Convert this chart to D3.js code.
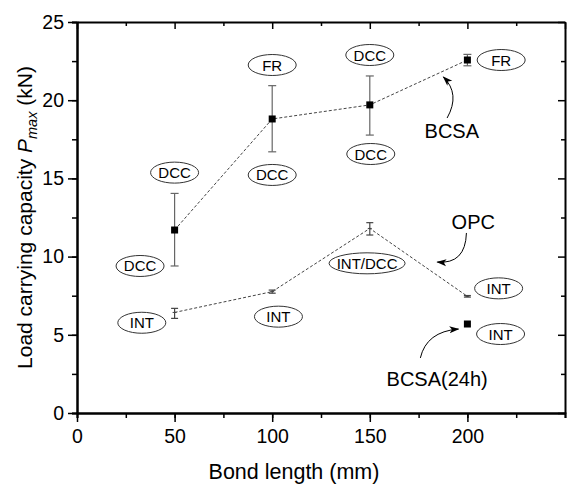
<!DOCTYPE html>
<html>
<head>
<meta charset="utf-8">
<style>
  body { margin: 0; background: #fff; }
  svg { font-family: "Liberation Sans", Arial, sans-serif; }
</style>
</head>
<body>
<div id="chart"></div>
<script src="https://d3js.org/d3.v7.min.js"></script>
<script>
// bond length (mm)
const bondLength = [50, 100, 150, 200];
// BCSA: mean and error range (kN)
const bcsaMean = [11.7, 18.8, 19.7, 22.57];
const bcsaLow  = [9.4, 16.7, 17.77, 22.2];
const bcsaHigh = [14.04, 20.93, 21.55, 22.93];
// OPC
const opcMean = [6.43, 7.76, 11.8, 7.46];
const opcLow  = [6.05, 7.66, 11.38, 7.41];
const opcHigh = [6.69, 7.86, 12.17, 7.51];
// BCSA(24h)
const bcsa24x = [200];
const bcsa24y = [5.69];

const xTicks = [0, 50, 100, 150, 200];
const yTicks = [0, 5, 10, 15, 20, 25];

// failure-mode labels (data units)
const modeText = ["DCC", "DCC", "FR", "DCC", "DCC", "DCC", "FR", "INT", "INT", "INT/DCC", "INT", "INT"];
const modeX    = [50, 32.3, 100, 100, 150, 150.5, 217.3, 33.2, 103.2, 148.6, 216, 217];
const modeY    = [15.37, 9.4, 22.25, 15.22, 22.89, 16.56, 22.57, 5.77, 6.16, 9.57, 7.97, 5.05];

const width = 567, height = 484;
const margin = {top: 22, right: 2, bottom: 71, left: 77};

const x = d3.scaleLinear().domain([0, 250]).range([margin.left, width - margin.right]);
const y = d3.scaleLinear().domain([0, 25]).range([height - margin.bottom, margin.top]);

const svg = d3.select("#chart").append("svg")
    .attr("width", width).attr("height", height);

svg.append("defs").append("marker")
    .attr("id", "ah").attr("viewBox", "0 0 10 10")
    .attr("refX", 9).attr("refY", 5)
    .attr("markerWidth", 10).attr("markerHeight", 10)
    .attr("markerUnits", "userSpaceOnUse")
    .attr("orient", "auto")
  .append("path").attr("d", "M0,1.5 L10,5 L0,8.5 L2.5,5 Z").attr("fill", "#000");

// axes
const minorX = d3.range(0, 251, 25);
const minorY = d3.range(0, 25.1, 2.5);
const axisStyle = g => g.call(g => g.select(".domain").attr("stroke-width", 2))
    .call(g => g.selectAll(".tick line").attr("stroke-width", 1.5));
const tickText = g => g.selectAll("text").attr("font-size", 19.5).attr("fill", "#000")
    .attr("font-family", "Liberation Sans, Arial, sans-serif");

svg.append("g").attr("transform", `translate(0,${y(0)})`)
    .call(d3.axisBottom(x).tickValues(minorX).tickSize(5).tickFormat(""))
    .call(axisStyle);
svg.append("g").attr("transform", `translate(0,${y(0)})`)
    .call(d3.axisBottom(x).tickValues(xTicks).tickSize(9).tickSizeOuter(0).tickPadding(7))
    .call(axisStyle)
    .call(tickText);

svg.append("g").attr("transform", `translate(${x(0)},0)`)
    .call(d3.axisLeft(y).tickValues(minorY).tickSize(5).tickFormat(""))
    .call(axisStyle);
svg.append("g").attr("transform", `translate(${x(0)},0)`)
    .call(d3.axisLeft(y).tickValues(yTicks).tickSize(9).tickSizeOuter(0).tickPadding(4))
    .call(axisStyle)
    .call(tickText);

// top and right axes, ticks inward
svg.append("g").attr("transform", `translate(0,${y(25)})`)
    .call(d3.axisBottom(x).tickValues(minorX).tickSize(4).tickSizeOuter(0).tickFormat(""))
    .call(axisStyle)
    .call(g => g.selectAll(".tick line").filter(d => d % 50 === 0).attr("y2", 7));
svg.append("g").attr("transform", `translate(${x(250)},0)`)
    .call(d3.axisRight(y).tickValues(minorY).tickSize(-4).tickSizeOuter(0).tickFormat(""))
    .call(axisStyle)
    .call(g => g.selectAll(".tick line").filter(d => d % 5 === 0).attr("x2", -7));

// axis titles
svg.append("text")
    .attr("x", 294).attr("y", 479)
    .attr("text-anchor", "middle").attr("font-size", 21.5)
    .text("Bond length (mm)");

const yt = svg.append("text")
    .attr("transform", `translate(32,${(y(0) + y(25)) / 2}) rotate(-90)`)
    .attr("text-anchor", "middle").attr("font-size", 21);
yt.append("tspan").text("Load carrying capacity ");
yt.append("tspan").attr("font-style", "italic").text("P");
yt.append("tspan").attr("font-style", "italic").attr("font-size", 14.5).attr("dy", 5).text("max");
yt.append("tspan").attr("dy", -5).text(" (kN)");

// dashed connecting lines
const line = d3.line().x(d => x(d[0])).y(d => y(d[1]));
svg.append("path")
    .attr("d", line(d3.zip(bondLength, bcsaMean)))
    .attr("fill", "none").attr("stroke", "#444").attr("stroke-width", 1)
    .attr("stroke-dasharray", "3,2");
svg.append("path")
    .attr("d", line(d3.zip(bondLength, opcMean)))
    .attr("fill", "none").attr("stroke", "#444").attr("stroke-width", 1)
    .attr("stroke-dasharray", "3,2");

// error bars
function errorBars(lo, hi, color, cap) {
  const g = svg.append("g").attr("stroke", color).attr("stroke-width", 1.2).attr("fill", "none");
  bondLength.forEach((b, i) => {
    g.append("line").attr("x1", x(b)).attr("x2", x(b)).attr("y1", y(lo[i])).attr("y2", y(hi[i]));
    g.append("line").attr("x1", x(b) - cap).attr("x2", x(b) + cap).attr("y1", y(lo[i])).attr("y2", y(lo[i]));
    g.append("line").attr("x1", x(b) - cap).attr("x2", x(b) + cap).attr("y1", y(hi[i])).attr("y2", y(hi[i]));
  });
}
errorBars(bcsaLow, bcsaHigh, "#666", 4);
errorBars(opcLow, opcHigh, "#444", 3.5);

// OPC centre marks
svg.append("g").selectAll("line").data(bondLength).join("line")
    .attr("x1", d => x(d) - 2).attr("x2", d => x(d) + 2)
    .attr("y1", (d, i) => y(opcMean[i])).attr("y2", (d, i) => y(opcMean[i]))
    .attr("stroke", "#444").attr("stroke-width", 1);

// BCSA square markers
svg.append("g").selectAll("rect").data(bondLength).join("rect")
    .attr("x", d => x(d) - 3.5).attr("y", (d, i) => y(bcsaMean[i]) - 3.5)
    .attr("width", 7).attr("height", 7).attr("fill", "#000");
svg.append("g").selectAll("rect").data(bcsa24x).join("rect")
    .attr("x", d => x(d) - 3.5).attr("y", (d, i) => y(bcsa24y[i]) - 3.5)
    .attr("width", 7).attr("height", 7).attr("fill", "#000");

// failure mode ellipses
const modes = svg.append("g");
modeText.forEach((t, i) => {
  const rx = t.length > 4 ? 38 : 24;
  modes.append("ellipse")
    .attr("cx", x(modeX[i])).attr("cy", y(modeY[i]))
    .attr("rx", rx).attr("ry", 10.5)
    .attr("fill", "#fff").attr("stroke", "#333").attr("stroke-width", 1);
  modes.append("text")
    .attr("x", x(modeX[i])).attr("y", y(modeY[i]) + 5.5)
    .attr("text-anchor", "middle").attr("font-size", 15)
    .text(t);
});

// series labels and arrows
const notes = [
  {t: "BCSA", x: 192, y: 17.6},
  {t: "OPC", x: 203, y: 11.75},
  {t: "BCSA(24h)", x: 184.5, y: 1.7}
];
svg.append("g").selectAll("text").data(notes).join("text")
    .attr("x", d => x(d.x)).attr("y", d => y(d.y))
    .attr("text-anchor", "middle").attr("font-size", 20)
    .text(d => d.t);

const arrows = [
  [[189.6, 18.86], [196.5, 20.4], [187.7, 21.48]],
  [[199.5, 11.51], [199, 9.5], [184.6, 9.65]],
  [[175.9, 3.52], [179, 5.2], [195.4, 5.37]]
];
arrows.forEach(a => {
  const p = d3.path();
  p.moveTo(x(a[0][0]), y(a[0][1]));
  p.quadraticCurveTo(x(a[1][0]), y(a[1][1]), x(a[2][0]), y(a[2][1]));
  svg.append("path").attr("d", p.toString())
    .attr("fill", "none").attr("stroke", "#000").attr("stroke-width", 1)
    .attr("marker-end", "url(#ah)");
});
</script>
</body>
</html>
